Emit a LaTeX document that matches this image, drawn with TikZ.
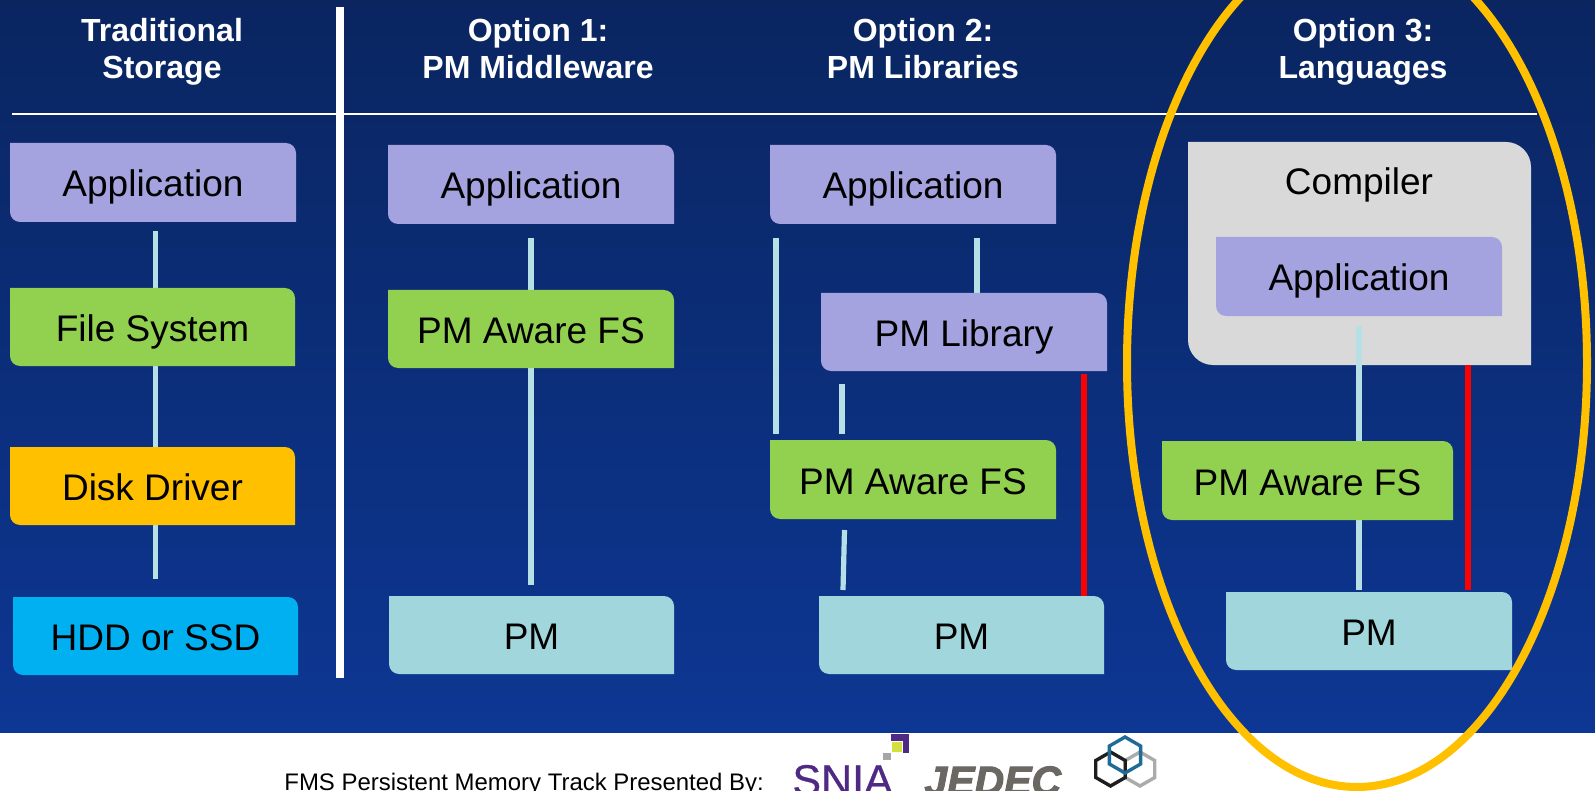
\documentclass[tikz,border=0pt]{standalone}
\usepackage{fontspec}
\setmainfont{Liberation Sans}
\newfontfamily\logofont[FakeBold=0.6]{Liberation Sans}
\newfontfamily\jedfont[FakeBold=2.5]{Liberation Sans Bold Italic}
\usetikzlibrary{calc}
\definecolor{purp}{HTML}{A4A3DF}
\definecolor{grn}{HTML}{92D050}
\definecolor{org}{HTML}{FFC000}
\definecolor{cyn}{HTML}{00B0F0}
\definecolor{pale}{HTML}{A1D6DC}
\definecolor{conn}{HTML}{B7E0E6}
\definecolor{gry}{HTML}{D9D9D9}
\definecolor{bgtop}{HTML}{0A2560}
\definecolor{bgbot}{HTML}{0D3794}
\definecolor{snia}{HTML}{4F2A84}
\definecolor{jed}{HTML}{6B6763}
\definecolor{lime}{HTML}{D3E040}
\definecolor{hexblue}{HTML}{1F6A96}
\definecolor{hexgrey}{HTML}{ABABAB}
\definecolor{hexblack}{HTML}{1E1E1E}
\tikzset{
  lbl/.style={inner sep=0pt,align=center,font=\fontsize{18.5}{22}\selectfont,text=black,text height=14.5pt,text depth=0pt},
  head/.style={inner sep=0pt,align=center,text=white,font=\bfseries\fontsize{16}{18.5}\selectfont},
  link/.style={draw=conn,line width=2.6pt},
  redlink/.style={draw=red,line width=2.6pt},
  hexa/.style={line width=1.7pt,line join=miter},
}
% name x1 y1 x2 y2 radius colour text
\newcommand{\rbox}[8]{%
  \fill[#7] (#2,#3) -- ({#4-#6},#3) .. controls ({#4-0.45*#6},#3) and (#4,{#3+0.45*#6}) .. (#4,{#3+#6})
    -- (#4,#5) -- ({#2+#6},#5) .. controls ({#2+0.45*#6},#5) and (#2,{#5-0.45*#6}) .. (#2,{#5-#6}) -- cycle;
  \node[lbl,minimum width={(#4-#2)*0.5pt},minimum height={(#5-#3)*0.5pt}] (#1) at ({(#2+#4)/2},{(#3+#5)/2}) {#8};%
}
\newcommand{\hexag}[4]{% cx cy r colour
  \draw[hexa,draw=#4] (#1,{#2-#3}) -- ({#1+0.866*#3},{#2-0.5*#3}) -- ({#1+0.866*#3},{#2+0.5*#3}) -- (#1,{#2+#3}) -- ({#1-0.866*#3},{#2+0.5*#3}) -- ({#1-0.866*#3},{#2-0.5*#3}) -- cycle;%
}
\begin{document}
\begin{tikzpicture}[x=0.5pt,y=-0.5pt]
\useasboundingbox (0,0) rectangle (1595,791);
\clip (0,0) rectangle (1595,791);
\fill[white] (0,0) rectangle (1595,791);
\shade[top color=bgtop,bottom color=bgbot] (0,0) rectangle (1595,732);

% headers
\node[head] (h1) at (162,52) {Traditional\\Storage};
\node[head] (h2) at (538,49) {Option 1:\\PM Middleware};
\node[head] (h3) at (923,49) {Option 2:\\PM Libraries};
\node[head] (h4) at (1363,52) {Option 3:\\Languages};
\coordinate (hl) at (12,114); \coordinate (hr) at (1537,114);
\draw[white,line width=1.2pt] (hl) -- (hr);
\coordinate (vt) at (340,7); \coordinate (vb) at (340,678);
\draw[white,line width=3.8pt] (vt) -- (vb);

% column 1
\coordinate (a1) at (155.5,231);
\coordinate (a3) at (155.5,579);
\rbox{app1}{10}{143}{296}{222}{10}{purp}{Application}
\draw[link] (a1) -- (a1 |- 0,300);
\draw[link] (a1 |- 0,360) -- (a1 |- 0,450);
\draw[link] (a1 |- 0,520) -- (a3);
\rbox{fs1}{10}{288}{295}{366}{10}{grn}{File System}
\rbox{dd1}{10}{447}{295}{525}{10}{org}{Disk Driver}
\rbox{hd1}{13}{597}{298}{675}{10}{cyn}{HDD or SSD}

% column 2
\coordinate (b1) at (531,238);
\coordinate (b2) at (531,585);
\draw[link] (b1) -- (b2);
\rbox{app2}{388}{145}{674}{224}{10}{purp}{Application}
\rbox{fs2}{388}{290}{674}{368}{10}{grn}{PM Aware FS}
\rbox{pm2}{389}{596}{674}{674}{10}{pale}{PM}

% column 3
\coordinate (c1) at (776,238); \coordinate (c1e) at (776,434);
\coordinate (c2) at (977,238);
\coordinate (c3) at (842,384); \coordinate (c3e) at (842,434);
\coordinate (c4) at (844.5,530); \coordinate (c4e) at (843,590);
\coordinate (c5) at (1084,374);
\draw[link] (c1) -- (c1e);
\draw[link] (c2) -- (c2 |- 0,296);
\draw[link] (c3) -- (c3e);
\draw[link] (c4) -- (c4e);
\draw[redlink] (c5) -- (c5 |- 0,600);
\rbox{app3}{770}{145}{1056}{224}{10}{purp}{Application}
\rbox{lib3}{821}{293}{1107}{371}{10}{purp}{PM Library}
\rbox{fs3}{770}{440}{1056}{519}{10}{grn}{PM Aware FS}
\rbox{pm3}{819}{596}{1104}{674}{10}{pale}{PM}

% column 4
\rbox{comp}{1188}{142}{1531}{365}{25}{gry}{}
\node[lbl] (complbl) at (1359,180.5) {Compiler};
\rbox{app4}{1216}{237}{1502}{316}{10}{purp}{Application}
\coordinate (d1) at (1359,326); \coordinate (d2) at (1359,590);
\coordinate (d3) at (1468,365); \coordinate (d4) at (1468,590);
\draw[link] (d1) -- (d2);
\draw[redlink] (d3) -- (d4);
\rbox{fs4}{1162}{441}{1453}{520}{10}{grn}{PM Aware FS}
\rbox{pm4}{1226}{592}{1512}{670}{10}{pale}{PM}

% highlight
\draw[org,line width=4pt] (1357,363) ellipse [x radius=230,y radius=424];

% footer
\node[anchor=base west,inner sep=0pt,font=\fontsize{11.97}{14}\selectfont] (foot) at (284,790) {FMS Persistent Memory Track Presented By:};
\fill[snia] (891,734) rectangle (909,753);
\fill[white] (891,741) rectangle (903,753);
\fill[lime] (892,742) rectangle (902,752);
\fill[gray!70] (883,753) rectangle (891,760);
\node[anchor=base west,inner sep=0pt,text=snia,font=\logofont\fontsize{21.5}{24}\selectfont] (sn) at (792,795) {SNIA};
\node[anchor=base west,inner sep=0pt,text=jed,font=\jedfont\fontsize{20.5}{24}\selectfont] (je) at (924,795) {JEDEC};
\hexag{1140}{769}{17}{hexgrey}
\hexag{1110.5}{769}{17}{hexblack}
\hexag{1125}{755}{18}{hexblue}
\end{tikzpicture}
\end{document}
